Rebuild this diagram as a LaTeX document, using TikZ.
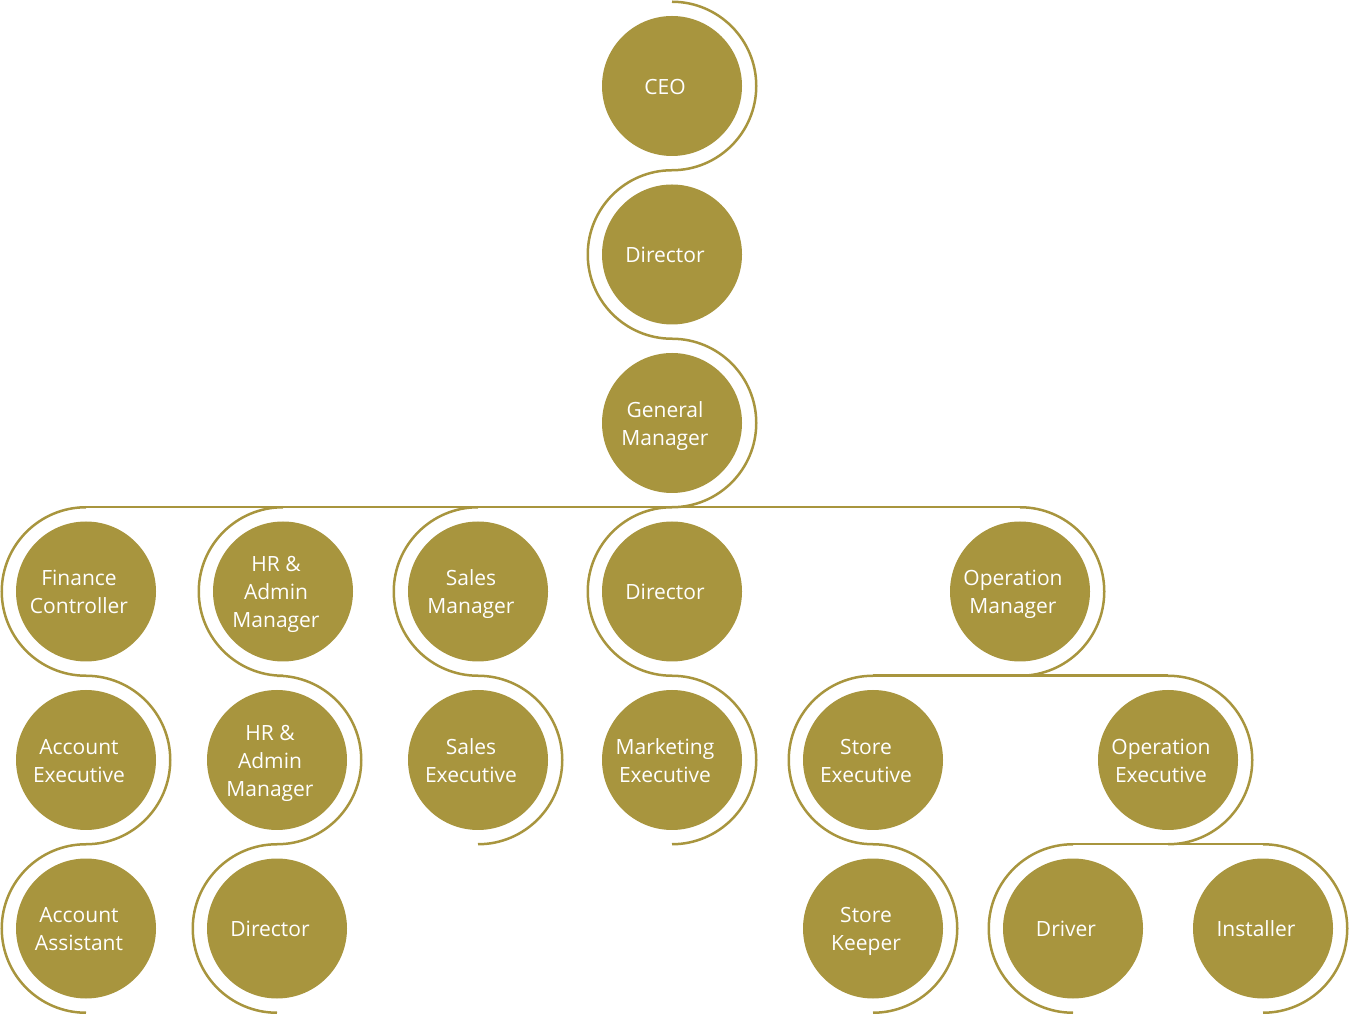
\documentclass[tikz,border=0pt]{standalone}
\usepackage{fontspec}
\setmainfont{Open Sans}
\usepackage{xcolor}
\usetikzlibrary{positioning}
\definecolor{gold}{HTML}{A8953E}
\def\R{84.25pt}
% text of a bubble, set a little to the left and lower as in the chart
\newcommand\role[1]{\raisebox{-2.5pt}[\height][\depth]{\begin{tabular}{@{}c@{}}#1\end{tabular}}\kern14pt}

\begin{document}
\begin{tikzpicture}[
    x=1pt,y=1pt,
    bubble/.style={circle,fill=gold,text=white,minimum size=140pt,
      inner sep=0pt,outer sep=0pt,font=\fontsize{21}{28}\selectfont},
    link/.style={draw=gold,line width=2.5pt},
    node distance=28.5pt
  ]
    \useasboundingbox (0,0) rectangle (1349,1015);
    % top chain
    \node[bubble] (ceo) at (672,929) {\role{CEO}};
    \node[bubble,below=of ceo] (dira) {\role{Director}};
    \node[bubble,below=of dira] (gm) {\role{General\\Manager}};
    % second row
    \node[bubble] (fin) at (86,423.5) {\role{Finance\\Controller}};
    \node[bubble] (hr) at (283,423.5) {\role{HR \&\\Admin\\Manager}};
    \node[bubble] (sales) at (478,423.5) {\role{Sales\\Manager}};
    \node[bubble] (dirb) at (672,423.5) {\role{Director}};
    \node[bubble] (om) at (1020,423.5) {\role{Operation\\Manager}};
    % lower rows
    \node[bubble,below=of fin] (accex) {\role{Account\\Executive}};
    \node[bubble,below=of accex] (accas) {\role{Account\\Assistant}};
    \node[bubble,below=of hr,xshift=-6pt] (hrtwo) {\role{HR \&\\Admin\\Manager}};
    \node[bubble,below=of hrtwo] (dirc) {\role{Director}};
    \node[bubble,below=of sales] (salesex) {\role{Sales\\Executive}};
    \node[bubble,below=of dirb] (mkt) {\role{Marketing\\Executive}};
    \node[bubble] (stex) at (873,255) {\role{Store\\Executive}};
    \node[bubble,below=of stex] (stkp) {\role{Store\\Keeper}};
    \node[bubble] (opex) at (1168,255) {\role{Operation\\Executive}};
    \node[bubble] (drv) at (1073,86.5) {\role{Driver}};
    \node[bubble] (inst) at (1263,86.5) {\role{Installer}};

    % connectors
    \draw[link] ([yshift=14.25pt]ceo.north) arc[start angle=90,end angle=-90,radius=\R]
      arc[start angle=90,end angle=270,radius=\R]
      arc[start angle=90,end angle=-90,radius=\R];
    \draw[link] ([yshift=14.25pt]fin.north) -- ([yshift=14.25pt]om.north);
    \draw[link] ([yshift=14.25pt]fin.north) arc[start angle=90,end angle=270,radius=\R]
      arc[start angle=90,end angle=-90,radius=\R]
      arc[start angle=90,end angle=270,radius=\R];
    \draw[link] ([yshift=14.25pt]hr.north) arc[start angle=90,end angle=270,radius=\R]
      -- ([yshift=14.25pt]hrtwo.north) arc[start angle=90,end angle=-90,radius=\R]
      arc[start angle=90,end angle=270,radius=\R];
    \draw[link] ([yshift=14.25pt]sales.north) arc[start angle=90,end angle=270,radius=\R]
      arc[start angle=90,end angle=-90,radius=\R];
    \draw[link] ([yshift=14.25pt]dirb.north) arc[start angle=90,end angle=270,radius=\R]
      arc[start angle=90,end angle=-90,radius=\R];
    \draw[link] ([yshift=14.25pt]om.north) arc[start angle=90,end angle=-90,radius=\R];
    \draw[link] ([yshift=14.25pt]stex.north) -- ([yshift=14.25pt]opex.north);
    \draw[link] ([yshift=14.25pt]stex.north) arc[start angle=90,end angle=270,radius=\R]
      arc[start angle=90,end angle=-90,radius=\R];
    \draw[link] ([yshift=14.25pt]opex.north) arc[start angle=90,end angle=-90,radius=\R];
    \draw[link] ([yshift=14.25pt]drv.north) -- ([yshift=14.25pt]inst.north);
    \draw[link] ([yshift=14.25pt]drv.north) arc[start angle=90,end angle=270,radius=\R];
    \draw[link] ([yshift=14.25pt]inst.north) arc[start angle=90,end angle=-90,radius=\R];
  \end{tikzpicture}
\end{document}
